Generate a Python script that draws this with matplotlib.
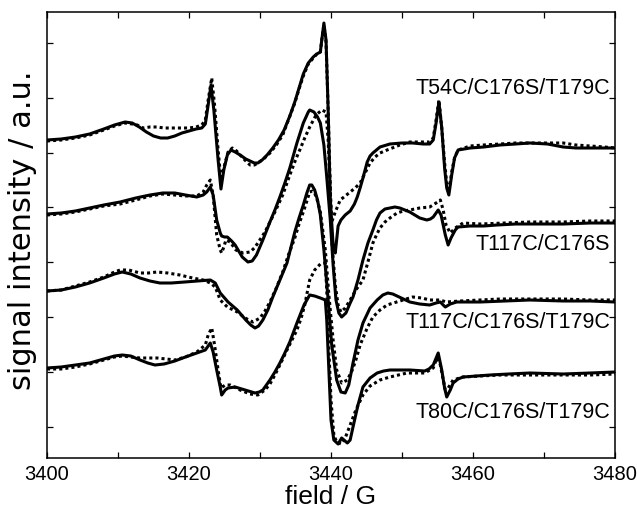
import numpy as np
import matplotlib
matplotlib.use("Agg")
import matplotlib.pyplot as plt

# ---- spectra: (field / G, signal / a.u.) pairs ----
# solid = experiment, dotted = simulation
t54 = [(3400.0, 318), (3402.0, 319), (3404.0, 321), (3406.0, 324), (3408.0, 329),
       (3409.5, 333), (3411.0, 336), (3412.0, 335), (3413.0, 331), (3414.0, 326),
       (3415.0, 322), (3416.0, 320), (3417.0, 320), (3418.0, 322), (3419.0, 325),
       (3420.0, 327), (3421.0, 329), (3421.8, 330), (3422.3, 334), (3422.7, 353),
       (3423.1, 373), (3423.5, 348), (3424.1, 298), (3424.5, 269), (3424.9, 288),
       (3425.4, 303), (3425.9, 308), (3426.5, 306), (3427.2, 303), (3428.0, 299),
       (3428.6, 297), (3429.2, 295), (3429.7, 295), (3430.3, 298), (3431.0, 303),
       (3431.8, 310), (3432.6, 318), (3433.4, 328), (3434.2, 342), (3434.9, 356),
       (3435.5, 370), (3436.1, 384), (3436.8, 395), (3437.5, 401), (3438.0, 404),
       (3438.5, 406), (3438.7, 418), (3439.0, 435), (3439.3, 418), (3439.6, 348),
       (3439.9, 258), (3440.3, 213), (3440.6, 205), (3441.0, 232), (3441.4, 238),
       (3442.0, 243), (3442.7, 247), (3443.3, 254), (3443.7, 261), (3444.1, 270),
       (3444.5, 280), (3445.1, 296), (3445.5, 302), (3445.9, 305), (3446.9, 311),
       (3448.3, 314), (3450.0, 315), (3451.5, 315), (3453.0, 314), (3453.9, 314),
       (3454.4, 318), (3454.8, 335), (3455.2, 356), (3455.6, 330), (3456.0, 290),
       (3456.3, 270), (3456.6, 263), (3457.0, 283), (3457.4, 300), (3457.9, 308),
       (3459.6, 310), (3461.5, 311), (3463.8, 313), (3466.0, 314), (3468.0, 315),
       (3470.5, 314), (3472.7, 311), (3474.5, 310), (3476.5, 310), (3478.5, 310),
       (3480.0, 310)]
t54_sim = [(3400.0, 317), (3402.0, 318), (3404.0, 320), (3406.0, 323), (3408.0, 328),
           (3409.5, 332), (3411.0, 335), (3412.0, 334), (3412.7, 333), (3413.5, 330),
           (3414.5, 331), (3415.5, 331), (3416.5, 330), (3417.5, 330), (3418.7, 330),
           (3420.0, 330), (3421.0, 331), (3421.8, 333), (3422.3, 338), (3422.7, 358),
           (3423.2, 380), (3423.6, 353), (3424.1, 308), (3424.5, 278), (3424.9, 290),
           (3425.5, 306), (3426.1, 310), (3426.7, 307), (3427.2, 303), (3428.0, 297),
           (3428.6, 293), (3429.2, 293), (3429.7, 295), (3430.5, 299), (3431.4, 305),
           (3432.3, 313), (3433.2, 323), (3434.0, 338), (3434.9, 355), (3435.5, 369),
           (3436.1, 382), (3436.8, 394), (3437.5, 400), (3438.0, 404), (3438.5, 406),
           (3438.7, 418), (3439.0, 433), (3439.3, 416), (3439.6, 348), (3439.9, 268),
           (3440.1, 236), (3440.6, 246), (3441.3, 258), (3442.0, 262), (3442.7, 266),
           (3443.4, 270), (3444.1, 275), (3444.8, 285), (3445.5, 295), (3446.2, 301),
           (3446.9, 305), (3447.9, 308), (3449.7, 313), (3451.1, 316), (3452.5, 316),
           (3453.9, 316), (3454.4, 320), (3454.8, 338), (3455.2, 358), (3455.6, 330),
           (3456.0, 295), (3456.3, 275), (3456.6, 266), (3457.0, 286), (3457.4, 300),
           (3457.9, 308), (3459.6, 312), (3461.5, 313), (3463.8, 314), (3466.0, 315),
           (3468.0, 315), (3470.5, 315), (3472.7, 315), (3474.5, 313), (3476.5, 312),
           (3478.5, 311), (3480.0, 310)]

t117 = [(3400.0, 244), (3402.0, 245), (3404.0, 247), (3406.0, 250), (3408.0, 253),
        (3410.3, 256), (3412.5, 260), (3414.5, 263), (3416.3, 265), (3418.0, 265),
        (3419.5, 263), (3421.1, 261), (3422.0, 263), (3422.5, 266), (3423.0, 271),
        (3423.4, 263), (3423.9, 238), (3424.4, 225), (3424.6, 222), (3425.0, 221),
        (3425.4, 221), (3426.0, 217), (3426.5, 213), (3427.0, 207), (3427.5, 201),
        (3428.3, 196), (3428.9, 197), (3429.5, 203), (3430.4, 218), (3431.4, 236),
        (3432.1, 248), (3432.8, 261), (3433.5, 275), (3434.2, 290), (3435.2, 315),
        (3436.1, 335), (3436.8, 346), (3437.0, 348), (3437.6, 346), (3438.1, 341),
        (3438.5, 335), (3439.0, 313), (3439.4, 281), (3439.9, 238), (3440.3, 193),
        (3440.7, 158), (3441.1, 145), (3441.5, 141), (3442.1, 145), (3442.7, 155),
        (3443.1, 161), (3443.8, 178), (3444.5, 198), (3445.2, 215), (3445.9, 228),
        (3446.4, 238), (3446.9, 245), (3447.6, 249), (3448.3, 250), (3449.0, 251),
        (3449.7, 250), (3450.4, 248), (3451.1, 246), (3452.5, 240), (3453.5, 238),
        (3454.0, 239), (3454.4, 241), (3454.8, 245), (3455.1, 248), (3455.5, 243),
        (3455.8, 233), (3456.1, 223), (3456.5, 213), (3456.9, 220), (3457.5, 228),
        (3457.9, 231), (3459.6, 232), (3461.5, 232), (3463.4, 233), (3466.0, 234),
        (3468.0, 234), (3470.5, 234), (3472.7, 234), (3476.5, 235), (3480.0, 235)]
t117_sim = [(3400.0, 243), (3402.0, 244), (3404.0, 246), (3406.0, 249), (3408.0, 252),
            (3410.3, 254), (3412.5, 258), (3414.5, 262), (3416.3, 264), (3418.0, 263),
            (3419.5, 262), (3421.1, 262), (3422.0, 266), (3422.5, 273), (3423.0, 278),
            (3423.4, 263), (3423.9, 223), (3424.4, 208), (3424.6, 205), (3424.9, 211),
            (3425.2, 218), (3425.8, 216), (3426.6, 208), (3427.6, 205), (3428.6, 206),
            (3429.2, 210), (3429.7, 215), (3430.7, 226), (3431.4, 236), (3432.1, 246),
            (3433.2, 263), (3434.2, 283), (3435.0, 298), (3435.6, 308), (3436.3, 320),
            (3437.0, 331), (3437.9, 343), (3438.7, 348), (3439.3, 346), (3439.6, 318),
            (3439.9, 268), (3440.1, 218), (3440.6, 173), (3441.0, 153), (3441.4, 146),
            (3442.0, 150), (3442.7, 158), (3443.5, 168), (3444.0, 173), (3444.5, 178),
            (3445.2, 196), (3445.9, 215), (3446.4, 223), (3446.9, 230), (3447.6, 236),
            (3448.3, 240), (3449.3, 245), (3450.2, 247), (3451.1, 248), (3452.5, 250),
            (3453.9, 251), (3454.8, 255), (3455.4, 258), (3455.8, 248), (3456.2, 233),
            (3456.8, 225), (3457.5, 230), (3458.6, 235), (3461.0, 234), (3464.5, 235),
            (3468.0, 236), (3472.7, 236), (3476.5, 237), (3480.0, 237)]

t117_179 = [(3400.0, 167), (3402.0, 168), (3404.0, 171), (3406.0, 175), (3408.0, 180),
            (3409.5, 184), (3410.6, 186), (3411.8, 184), (3413.1, 180), (3414.5, 177),
            (3415.9, 175), (3417.5, 175), (3419.4, 176), (3421.2, 177), (3423.0, 178),
            (3423.7, 175), (3424.4, 165), (3425.5, 156), (3426.8, 148), (3428.0, 138),
            (3428.7, 133), (3429.3, 130), (3429.8, 132), (3430.4, 138), (3431.1, 148),
            (3431.8, 161), (3432.8, 178), (3433.8, 195), (3434.9, 226), (3435.5, 240),
            (3436.1, 253), (3436.6, 265), (3437.0, 273), (3437.3, 273), (3437.7, 268),
            (3438.1, 258), (3438.5, 243), (3439.0, 208), (3439.6, 158), (3440.1, 113),
            (3440.8, 78), (3441.4, 66), (3442.0, 65), (3442.5, 73), (3443.1, 95),
            (3443.8, 118), (3444.5, 135), (3445.5, 150), (3446.5, 158), (3447.3, 163),
            (3448.0, 165), (3448.7, 164), (3449.3, 162), (3450.2, 159), (3451.1, 156),
            (3452.5, 154), (3453.9, 153), (3454.8, 155), (3455.4, 156), (3455.8, 153),
            (3456.1, 151), (3456.8, 154), (3457.7, 156), (3459.5, 156), (3461.0, 156),
            (3464.5, 157), (3468.0, 158), (3472.7, 157), (3476.5, 157), (3480.0, 156)]
t117_179_sim = [(3400.0, 167), (3402.0, 168), (3404.0, 172), (3406.0, 176), (3408.0, 181),
                (3409.5, 186), (3410.3, 188), (3411.5, 188), (3413.1, 185), (3414.3, 185),
                (3415.5, 186), (3417.0, 185), (3418.7, 183), (3420.5, 180), (3422.0, 178),
                (3423.0, 175), (3423.7, 171), (3424.4, 158), (3425.4, 151), (3426.8, 146),
                (3427.9, 140), (3429.0, 136), (3430.0, 140), (3430.7, 147), (3431.4, 156),
                (3432.3, 170), (3433.2, 186), (3434.0, 203), (3434.9, 220), (3435.5, 234),
                (3436.1, 246), (3436.6, 257), (3437.0, 266), (3437.4, 267), (3437.7, 265),
                (3438.1, 257), (3438.5, 246), (3439.2, 208), (3439.7, 163), (3440.3, 118),
                (3440.8, 88), (3441.5, 75), (3442.3, 78), (3443.0, 88), (3443.5, 98),
                (3444.1, 113), (3445.1, 130), (3445.9, 141), (3446.9, 148), (3447.9, 153),
                (3448.8, 155), (3449.7, 157), (3451.5, 161), (3452.8, 160), (3453.9, 158),
                (3455.4, 158), (3456.2, 156), (3458.2, 157), (3461.0, 158), (3463.8, 159),
                (3468.0, 159), (3472.7, 159), (3476.5, 158), (3480.0, 158)]

t80 = [(3400.0, 90), (3402.0, 91), (3404.0, 93), (3406.0, 95), (3408.0, 99),
       (3409.5, 102), (3410.6, 103), (3411.8, 102), (3413.1, 98), (3414.2, 95),
       (3415.2, 93), (3416.5, 94), (3418.0, 97), (3419.5, 101), (3421.1, 105),
       (3422.3, 108), (3422.7, 112), (3423.0, 115), (3423.4, 106), (3423.9, 88),
       (3424.4, 71), (3424.6, 63), (3425.1, 68), (3425.5, 70), (3426.5, 71),
       (3427.9, 68), (3429.3, 65), (3429.9, 66), (3430.4, 68), (3431.4, 78),
       (3432.1, 86), (3432.8, 95), (3433.5, 105), (3434.2, 116), (3435.2, 135),
       (3436.2, 153), (3437.0, 163), (3437.7, 162), (3438.5, 160), (3439.2, 158),
       (3439.4, 138), (3439.7, 88), (3440.0, 38), (3440.4, 18), (3441.0, 14),
       (3441.5, 20), (3442.3, 15), (3442.7, 18), (3443.1, 31), (3443.8, 53),
       (3444.5, 71), (3445.5, 80), (3446.5, 85), (3447.4, 87), (3448.3, 88),
       (3451.1, 88), (3453.2, 87), (3453.8, 89), (3454.4, 93), (3455.1, 105),
       (3455.6, 88), (3456.0, 70), (3456.3, 61), (3456.8, 68), (3457.2, 75),
       (3457.9, 79), (3458.6, 81), (3460.5, 82), (3462.4, 83), (3465.0, 84),
       (3468.0, 85), (3472.7, 84), (3476.5, 85), (3480.0, 86)]
t80_sim = [(3400.0, 89), (3402.0, 89), (3404.0, 91), (3406.0, 94), (3408.0, 98),
           (3409.5, 101), (3410.6, 102), (3411.8, 101), (3413.1, 100), (3415.5, 100),
           (3416.8, 99), (3418.0, 98), (3419.5, 101), (3421.1, 106), (3422.3, 113),
           (3422.7, 123), (3423.2, 130), (3423.6, 113), (3424.1, 88), (3424.5, 70),
           (3425.1, 73), (3425.8, 73), (3427.2, 68), (3428.6, 64), (3429.7, 63),
           (3430.7, 68), (3431.4, 74), (3432.1, 83), (3433.0, 96), (3433.8, 108),
           (3435.2, 128), (3435.8, 140), (3436.3, 153), (3437.0, 178), (3437.7, 188),
           (3438.5, 194), (3439.2, 195), (3439.4, 168), (3439.7, 108), (3440.0, 58),
           (3440.4, 23), (3440.8, 16), (3441.4, 14), (3442.0, 20), (3442.7, 33),
           (3443.5, 48), (3444.5, 63), (3445.5, 72), (3446.9, 78), (3448.3, 81),
           (3450.7, 85), (3453.2, 85), (3454.4, 90), (3454.9, 100), (3455.4, 93),
           (3456.1, 68), (3456.5, 70), (3457.2, 78), (3458.6, 81), (3461.0, 82),
           (3463.8, 83), (3468.0, 83), (3472.7, 83), (3476.5, 83), (3480.0, 84)]

labels = ["T54C/C176S/T179C", "T117C/C176S", "T117C/C176S/T179C", "T80C/C176S/T179C"]
label_y = [370, 213, 136, 45]

plt.rcParams.update({
    "font.family": ["Liberation Sans", "DejaVu Sans"],
    "axes.linewidth": 1.1,
})

fig = plt.figure(figsize=(6.37, 5.13), dpi=100)
ax = fig.add_axes([47/637, 55/513, 568/637, 446/513])

solid = dict(color="black", lw=2.2, solid_joinstyle="round", solid_capstyle="round")
dotted = dict(color="black", lw=2.2, linestyle=(0, (1, 1)))
for exp, sim in [(t54, t54_sim), (t117, t117_sim), (t117_179, t117_179_sim), (t80, t80_sim)]:
    bs, ss = zip(*sim)
    be, se = zip(*exp)
    ax.plot(bs, ss, **dotted)
    ax.plot(be, se, **solid)

for lab, y in zip(labels, label_y):
    ax.text(3479.3, y, lab, ha="right", va="center", fontsize=15.5)

ax.set_xlim(3400, 3480)
ax.set_ylim(0, 446)
xt = np.arange(3400, 3481, 10)
ax.set_xticks(xt)
ax.set_xticklabels([str(v) if v % 20 == 0 else "" for v in xt], fontsize=14.5)
ax.set_yticks(31.5 + 54.8 * np.arange(8))
ax.set_yticklabels([])
ax.tick_params(direction="in", length=4, width=0.9, top=True, right=True, pad=5)

fig.text(331/637, 1 - 497/513, "field / G", ha="center", va="center", fontsize=19)
fig.text(23/637, 1 - 230/513, "signal intensity / a.u.", ha="center", va="center",
         rotation=90, fontsize=22, family="DejaVu Sans")

fig.savefig("out.png", dpi=100, facecolor="white")
